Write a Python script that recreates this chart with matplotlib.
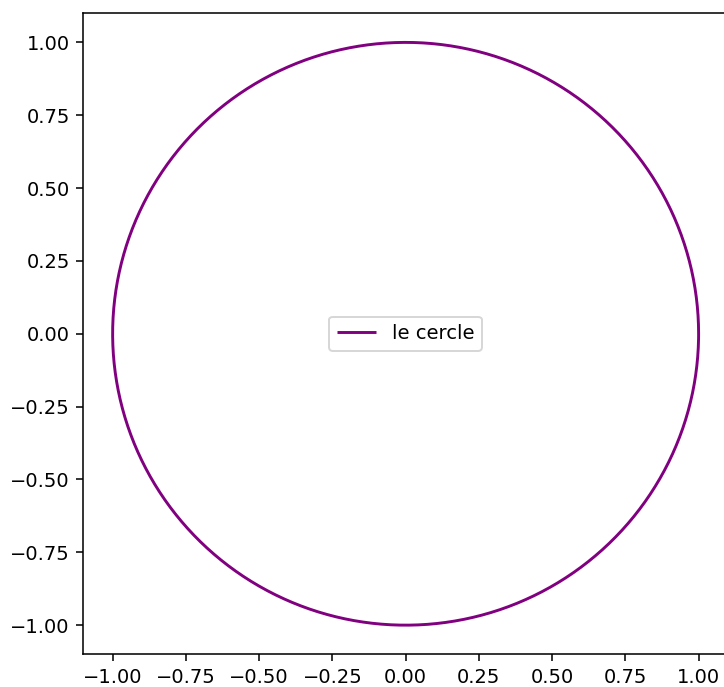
import numpy as np
import matplotlib
matplotlib.use("Agg")
import matplotlib.pyplot as plt

# Unit circle description
center_x = 0.0
center_y = 0.0
radius = 1.0
n_points = 400
line_label = "le cercle"
line_color = "purple"

theta = np.linspace(0, 2 * np.pi, n_points)
x = center_x + radius * np.cos(theta)
y = center_y + radius * np.sin(theta)

DPI = 140
fig = plt.figure(figsize=(724 / DPI, 687 / DPI), dpi=DPI)
ax = fig.add_axes([0.1151, 0.0476, 0.8903, 0.9331])
ax.plot(x, y, color=line_color, label=line_label, solid_capstyle="butt")
ax.set_xlim(-1.1, 1.1)
ax.set_ylim(-1.1, 1.1)
ax.set_xticks(np.arange(-1.0, 1.01, 0.25))
ax.set_yticks(np.arange(-1.0, 1.01, 0.25))
ax.legend(loc="center")

fig.savefig("out.png", dpi=DPI)
